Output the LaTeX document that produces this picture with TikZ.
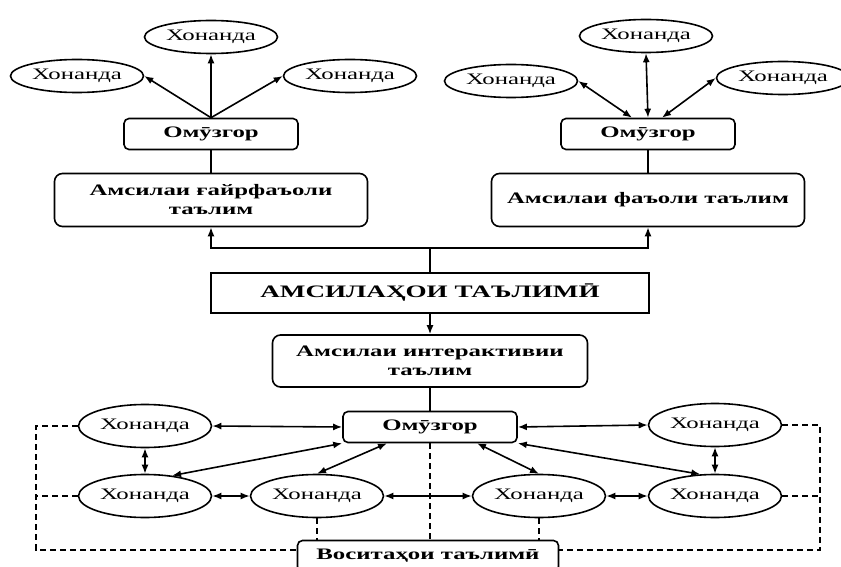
\documentclass[tikz,border=0pt]{standalone}
\usepackage{fontspec}
\setmainfont{Liberation Serif}[FakeStretch=1.55]
\usetikzlibrary{shapes.geometric,arrows.meta}

\begin{document}
\begin{tikzpicture}[x=1pt,y=-1pt,line width=1.6pt,>={Latex[length=9pt,width=7pt]},
        pupil/.style={ellipse,draw,minimum width=133pt,minimum height=43pt,inner sep=0pt,
                      font=\fontsize{16}{19}\selectfont},
        top pupil/.style={pupil,minimum height=33pt},
        teacher/.style={draw,rounded corners=5pt,minimum width=174pt,minimum height=31pt,
                        font=\bfseries\fontsize{16}{19}\selectfont},
        model/.style={draw,rounded corners=8pt,minimum width=313pt,minimum height=53pt,
                      align=center,font=\bfseries\fontsize{16}{19}\selectfont},
        link/.style={dash pattern=on 6pt off 4pt}]

        \clip (0,0) rectangle (841,567);

        % Define vertices
        \node[top pupil] (pLT) at (211,37) {Хонанда};
        \node[top pupil] (pLL) at (77,76) {Хонанда};
        \node[top pupil] (pLR) at (350,76) {Хонанда};
        \node[teacher] (tL) at (211,134) {Омӯзгор};
        \node[model] (modelL) at (211,200) {Амсилаи ғайрфаъоли\\таълим};

        \node[top pupil] (pRT) at (646,36) {Хонанда};
        \node[top pupil] (pRL) at (511,81) {Хонанда};
        \node[top pupil] (pRR) at (783,78) {Хонанда};
        \node[teacher] (tR) at (648,134) {Омӯзгор};
        \node[model] (modelR) at (648,200) {Амсилаи фаъоли таълим};

        \coordinate (bus) at (430,248);
        \node[draw,minimum width=438pt,minimum height=40pt,
              font=\bfseries\fontsize{17.5}{21}\selectfont] (title) at (430,293) {АМСИЛАҲОИ ТАЪЛИМӢ};
        \node[model,minimum width=315pt,minimum height=52pt] (modelI) at (430,361) {Амсилаи интерактивии\\таълим};

        \node[teacher] (tB) at (430,427) {Омӯзгор};
        \node[pupil] (pA) at (145,426) {Хонанда};
        \node[pupil] (pB) at (145,496) {Хонанда};
        \node[pupil] (pC) at (317,496) {Хонанда};
        \node[pupil] (pD) at (539,496) {Хонанда};
        \node[pupil] (pE) at (715,425) {Хонанда};
        \node[pupil] (pF) at (715,496) {Хонанда};
        \node[teacher,minimum width=261pt] (tools) at (428,556) {Воситаҳои таълимӣ};

        \coordinate (dl) at (36,550);
        \coordinate (dr) at (820,550);

        % Draw edges
        \path[->]
            (tL.north) edge (pLT.south)
            (tL.north) edge (pLL.east)
            (tL.north) edge (pLR.west)
            (title.south) edge (modelI.north);
        \path[<->]
            (tR.north) edge (pRT.south)
            ([xshift=-16pt]tR.north) edge (pRL.east)
            ([xshift=14pt]tR.north) edge (pRR.west);
        \path
            (tL.south) edge (modelL.north)
            (tR.south) edge (modelR.north)
            (title.north) edge (bus)
            (modelI.south) edge (tB.north);
        \draw[->] (bus) -| (modelL.south);
        \draw[->] (bus) -| (modelR.south);

        \path[<->]
            (pA.east) edge (tB.west)
            (pE.west) edge (tB.east)
            (pA.south) edge (pB.north)
            (pE.south) edge (pF.north)
            (pB.east) edge (pC.west)
            (pC.east) edge (pD.west)
            (pD.east) edge (pF.west)
            (pB.37) edge (tB.south west)
            (pC.north) edge ([xshift=-43pt]tB.south)
            (pD.north) edge ([xshift=47pt]tB.south)
            (pF.124) edge (tB.south east);

        % Dashed links to the tools
        \draw[link] (pA.west) -| (dl) -- (dl -| tools.west);
        \draw[link] (pB.west) -- (pB.west -| dl);
        \draw[link] (pE.east) -| (dr) -- (dr -| tools.east);
        \draw[link] (pF.east) -- (pF.east -| dr);
        \draw[link] (pC.south) -- (pC.south |- tools.north);
        \draw[link] (pD.south) -- (pD.south |- tools.north);
        \draw[link] (tB.south) -- (tB.south |- tools.north);

\end{tikzpicture}
\end{document}
